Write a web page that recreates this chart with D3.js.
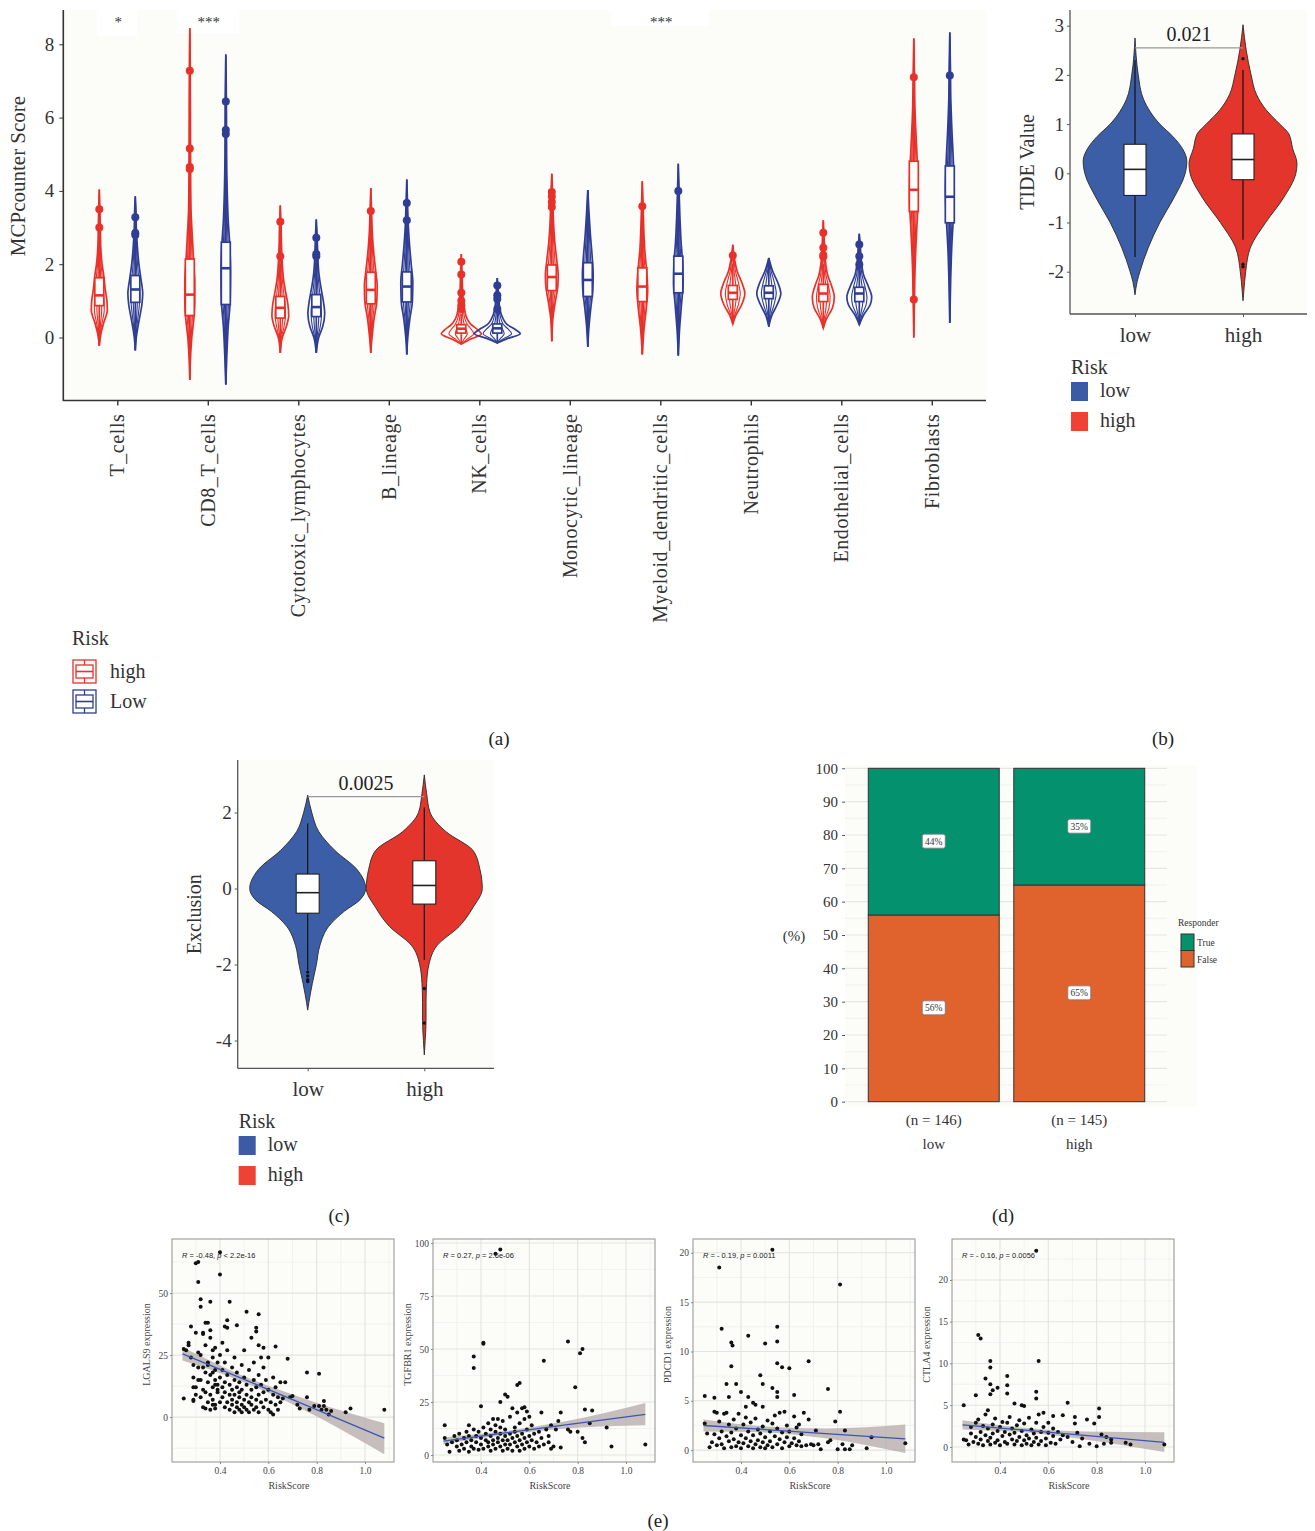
<!DOCTYPE html>
<html><head><meta charset="utf-8">
<script src="https://cdn.jsdelivr.net/npm/d3@7"></script>
<style>
body{margin:0;background:#fff}
</style>
</head><body><script>
// ================= DATA =================
// ---- panel (a) MCPcounter ----
const cellTypes = ["T_cells","CD8_T_cells","Cytotoxic_lymphocytes","B_lineage","NK_cells","Monocytic_lineage","Myeloid_dendritic_cells","Neutrophils","Endothelial_cells","Fibroblasts"];
const riskGroupsA = ["high","Low"];
// violin profiles: [value, relative density]
const violinHigh = [
 [[-0.22,0],[0.1,0.08],[0.4,0.22],[0.75,0.4],[1.0,0.38],[1.3,0.3],[1.7,0.22],[2.0,0.14],[2.5,0.07],[3.0,0.05],[3.5,0.03],[4.04,0]],
 [[-1.15,0],[-0.5,0.04],[0,0.1],[0.5,0.2],[1.0,0.25],[1.5,0.25],[2.0,0.2],[2.5,0.15],[3.0,0.1],[3.5,0.06],[4.5,0.04],[6,0.03],[7.5,0.02],[8.44,0]],
 [[-0.42,0],[0,0.1],[0.3,0.3],[0.6,0.42],[0.9,0.38],[1.2,0.28],[1.6,0.16],[2.0,0.1],[2.5,0.06],[3.0,0.04],[3.6,0]],
 [[-0.42,0],[0,0.06],[0.5,0.16],[1.0,0.3],[1.4,0.32],[1.8,0.25],[2.3,0.15],[2.8,0.08],[3.4,0.04],[4.08,0]],
 [[-0.18,0],[-0.05,0.45],[0.1,1.0],[0.2,0.85],[0.35,0.5],[0.5,0.3],[0.8,0.15],[1.2,0.07],[1.7,0.04],[2.28,0]],
 [[-0.1,0],[0.5,0.05],[1.0,0.18],[1.4,0.3],[1.7,0.32],[2.1,0.25],[2.6,0.15],[3.2,0.08],[3.8,0.05],[4.47,0]],
 [[-0.46,0],[0.2,0.08],[0.8,0.2],[1.3,0.27],[1.8,0.22],[2.4,0.12],[3.0,0.07],[3.6,0.04],[4.26,0]],
 [[0.37,0],[0.6,0.15],[0.9,0.45],[1.2,0.6],[1.5,0.45],[1.8,0.22],[2.1,0.1],[2.53,0]],
 [[0.26,0],[0.5,0.15],[0.8,0.45],[1.1,0.55],[1.4,0.42],[1.7,0.22],[2.1,0.1],[2.6,0.05],[3.2,0]],
 [[0.0,0],[1.0,0.03],[2.0,0.07],[3.0,0.15],[3.8,0.22],[4.5,0.2],[5.3,0.13],[6.2,0.06],[7.2,0.03],[8.16,0]]
];
const violinLow = [
 [[-0.35,0],[0.0,0.05],[0.5,0.2],[0.9,0.33],[1.2,0.37],[1.6,0.28],[2.0,0.18],[2.5,0.1],[3.0,0.05],[3.5,0.03],[3.85,0]],
 [[-1.28,0],[-0.5,0.05],[0.3,0.12],[1.0,0.22],[1.8,0.24],[2.5,0.2],[3.2,0.12],[4.0,0.07],[5.0,0.04],[6.5,0.03],[7.72,0]],
 [[-0.42,0],[0,0.12],[0.3,0.32],[0.65,0.42],[1.0,0.35],[1.4,0.22],[1.8,0.12],[2.3,0.07],[2.8,0.04],[3.22,0]],
 [[-0.46,0],[0,0.05],[0.5,0.15],[1.0,0.28],[1.5,0.3],[2.0,0.22],[2.5,0.14],[3.0,0.08],[3.6,0.04],[4.31,0]],
 [[-0.15,0],[-0.03,0.5],[0.1,1.15],[0.22,0.9],[0.35,0.5],[0.5,0.3],[0.8,0.12],[1.2,0.06],[1.62,0]],
 [[-0.25,0],[0.3,0.06],[0.8,0.15],[1.3,0.25],[1.7,0.27],[2.2,0.22],[2.8,0.13],[3.4,0.06],[4.02,0]],
 [[-0.49,0],[0.2,0.06],[0.9,0.16],[1.5,0.24],[2.0,0.22],[2.6,0.14],[3.3,0.08],[4.0,0.04],[4.74,0]],
 [[0.3,0],[0.6,0.15],[0.9,0.42],[1.2,0.6],[1.5,0.45],[1.8,0.2],[2.17,0]],
 [[0.35,0],[0.6,0.2],[0.9,0.55],[1.1,0.62],[1.4,0.45],[1.7,0.22],[2.1,0.1],[2.5,0.05],[2.83,0]],
 [[0.4,0],[1.5,0.04],[2.5,0.1],[3.3,0.18],[4.0,0.22],[4.8,0.18],[5.6,0.11],[6.5,0.05],[7.4,0.03],[8.32,0]]
];
// box stats: [q1, median, q3, whiskerLow, whiskerHigh]
const boxHigh = [[0.87,1.15,1.63,-0.22,2.7],[0.6,1.17,2.14,-1.15,4.4],[0.53,0.81,1.12,-0.42,2.0],[0.92,1.3,1.78,-0.42,3.0],[0.12,0.24,0.35,-0.18,0.65],[1.28,1.65,1.98,-0.1,3.3],[0.98,1.39,1.9,-0.46,3.3],[1.04,1.22,1.42,0.37,2.0],[0.98,1.2,1.45,0.26,2.0],[3.44,4.03,4.81,1.2,6.8]];
const boxLow = [[0.96,1.31,1.69,-0.35,2.6],[0.9,1.89,2.6,-1.28,5.3],[0.57,0.83,1.17,-0.42,2.0],[0.97,1.39,1.79,-0.46,3.0],[0.12,0.25,0.37,-0.15,0.7],[1.12,1.57,2.04,-0.25,4.02],[1.22,1.74,2.22,-0.49,3.7],[1.06,1.22,1.41,0.3,2.17],[0.98,1.2,1.37,0.35,1.9],[3.13,3.84,4.68,0.4,7.0]];
const outHigh = [[3.0,3.5],[4.6,4.65,5.16,7.28],[2.22,3.16],[3.45],[0.78,0.88,1.0,1.22,1.72,2.07],[3.56,3.7,3.85,3.97],[3.58],[2.24],[2.2,2.25,2.45,2.86],[1.04,7.1]];
const outLow = [[2.8,2.85,3.28],[5.55,5.66,6.44],[2.22,2.28,2.72],[3.2,3.67],[0.78,1.05,1.15,1.42],[],[4.0],[],[1.99,2.22,2.54],[7.15]];
const sigLabels = [["T_cells","*"],["CD8_T_cells","***"],["Myeloid_dendritic_cells","***"]];
const mcpTicks = [0,2,4,6,8];

// ---- panel (b) TIDE ----
const riskGroups = ["low","high"];
const tideViolin = [
 [[-2.47,0],[-2.2,0.04],[-2.0,0.09],[-1.5,0.25],[-1.0,0.46],[-0.5,0.72],[0,0.93],[0.25,0.96],[0.5,0.88],[0.75,0.7],[1.0,0.46],[1.5,0.16],[2.0,0.06],[2.4,0.02],[2.75,0]],
 [[-2.59,0],[-2.2,0.03],[-2.0,0.05],[-1.5,0.14],[-1.0,0.42],[-0.5,0.75],[0,0.98],[0.2,1.0],[0.5,0.92],[0.8,0.85],[1.0,0.68],[1.3,0.42],[1.6,0.25],[2.0,0.15],[2.5,0.06],[3.02,0]]
];
const tideBox = [[-0.45,0.08,0.59,-1.7,2.3],[-0.13,0.28,0.8,-1.35,2.1]];
const tideOut = [[],[2.33,-1.85,-1.9]];
const tideTicks = [-2,-1,0,1,2,3];
const tideP = "0.021";

// ---- panel (c) Exclusion ----
const exclViolin = [
 [[-3.2,0],[-3.0,0.02],[-2.5,0.08],[-2.0,0.15],[-1.5,0.21],[-1.0,0.36],[-0.6,0.63],[-0.3,0.9],[0,1.0],[0.5,0.85],[1.0,0.47],[1.5,0.19],[2.0,0.07],[2.46,0]],
 [[-4.38,0],[-4.0,0.015],[-3.5,0.03],[-3.0,0.03],[-2.5,0.04],[-2.0,0.08],[-1.5,0.22],[-1.0,0.6],[-0.5,0.84],[0,1.0],[0.5,0.96],[1.0,0.84],[1.5,0.37],[2.0,0.1],[2.5,0.04],[2.99,0]]
];
const exclBox = [[-0.65,-0.11,0.38,-2.15,1.71],[-0.41,0.08,0.73,-1.88,2.13]];
const exclOut = [[-2.2,-2.3,-2.4,-2.45],[-2.63,-3.54]];
const exclTicks = [-4,-2,0,2];
const exclP = "0.0025";

// ---- panel (d) responder ----
const respGroups = ["low","high"];
const respN = ["(n = 146)","(n = 145)"];
const respFalse = [56,65];
const respTrue = [44,35];
const pctTicks = [0,10,20,30,40,50,60,70,80,90,100];

// ---- panel (e) scatter ----
const riskTicks = [0.4,0.6,0.8,1.0];
const lgals9Pts = [[0.25,7.5],[0.25,27.5],[0.26,27],[0.27,29],[0.27,30],[0.28,36.5],[0.28,24],[0.29,6.5],[0.29,7],[0.29,12],[0.29,16],[0.29,21],[0.3,62],[0.3,34],[0.31,62.5],[0.31,54.5],[0.32,47.5],[0.32,44.5],[0.31,26],[0.32,15],[0.33,33.5],[0.33,34],[0.34,38],[0.35,38],[0.34,29],[0.33,20],[0.34,3.5],[0.36,46.5],[0.36,35],[0.36,32],[0.35,22],[0.37,27],[0.38,28],[0.37,18],[0.38,13],[0.39,11],[0.37,5],[0.38,3.5],[0.4,66.5],[0.4,57.5],[0.42,36.5],[0.43,39],[0.43,36],[0.44,46.5],[0.47,37],[0.51,42.5],[0.56,41.5],[0.55,36],[0.55,34.5],[0.53,32],[0.41,30],[0.56,29],[0.58,28],[0.63,28.5],
 [0.30,12],[0.30,9],[0.31,20],[0.31,15],[0.32,8],[0.32,25],[0.33,11],[0.33,4],[0.34,18],[0.34,10],[0.35,6],[0.35,14],[0.35,21],[0.36,9],[0.36,17],[0.36,3],[0.37,12],[0.37,24],[0.37,7],[0.38,15],[0.38,19],[0.38,5],[0.39,10],[0.39,22],[0.39,13],[0.40,6],[0.40,16],[0.40,25],[0.41,8],[0.41,12],[0.41,19],[0.42,4],[0.42,10],[0.42,14],[0.42,22],[0.43,6],[0.43,17],[0.43,27],[0.44,9],[0.44,3],[0.44,13],[0.45,5],[0.45,11],[0.45,20],[0.45,7],[0.46,2],[0.46,15],[0.46,9],[0.46,24],[0.47,4],[0.47,12],[0.47,18],[0.47,6],[0.48,3],[0.48,10],[0.48,14],[0.48,8],[0.49,5],[0.49,21],[0.49,2],[0.49,11],[0.50,7],[0.50,16],[0.50,4],[0.50,27],[0.51,9],[0.51,3],[0.51,13],[0.52,6],[0.52,19],[0.52,2],[0.53,11],[0.53,5],[0.53,8],[0.54,15],[0.54,3],[0.54,22],[0.55,7],[0.55,12],[0.55,4],[0.56,9],[0.56,17],[0.56,2],[0.57,6],[0.57,13],[0.57,24],[0.58,4],[0.58,10],[0.58,20],[0.59,7],[0.59,15],[0.60,3],[0.60,11],[0.60,24],[0.61,6],[0.61,2],[0.62,9],[0.62,16],[0.62,1],[0.63,5],[0.63,12],[0.64,3],[0.64,8],[0.65,6],[0.65,14],
 [0.66,7.5],[0.67,14],[0.68,23.5],[0.69,8],[0.70,8.5],[0.72,5],[0.73,3.5],[0.76,18],[0.76,8],[0.77,3],[0.79,4.5],[0.81,17.5],[0.81,4.5],[0.82,3],[0.83,4.5],[0.83,6.5],[0.84,3],[0.85,1],[0.86,2.5],[0.92,2],[0.94,3.5],[1.08,3]];
const tgfbr1Pts = [[0.46,95],[0.48,97],[0.41,52.5],[0.41,53],[0.37,46.5],[0.37,41],[0.40,23],[0.48,25],[0.50,28.5],[0.51,27.5],[0.55,33],[0.56,34],[0.66,44.5],[0.76,53.5],[0.81,48],[0.82,50],[0.79,32],[0.83,21.5],[0.86,21],[0.85,15],[0.92,13],[0.94,4],[1.08,5],[0.83,6],[0.82,8],[0.80,11],[0.76,12],[0.77,11],[0.73,20],[0.72,16],[0.73,3.5],[0.70,4],[0.71,12],[0.69,14],[0.68,9],[0.65,20],[0.60,18],[0.58,22.5],[0.57,22],[0.59,20.5],[0.53,22],[0.47,17],[0.45,17],
 [0.25,14],[0.25,8],[0.26,5],[0.27,1.5],[0.28,6],[0.29,9],[0.30,4],[0.30,7],[0.31,2],[0.31,10],[0.32,5],[0.33,8],[0.33,3],[0.34,11],[0.34,6],[0.35,14],[0.35,1.5],[0.35,9],[0.36,4],[0.36,7],[0.37,12],[0.37,3],[0.38,6],[0.38,9],[0.39,2.5],[0.39,11],[0.40,5],[0.40,8],[0.41,13],[0.41,3],[0.42,7],[0.42,10],[0.43,4],[0.43,15],[0.43,6],[0.44,2],[0.44,9],[0.44,12],[0.45,5],[0.45,7],[0.46,3],[0.46,11],[0.46,14],[0.47,6],[0.47,8],[0.48,4],[0.48,10],[0.48,13],[0.49,2],[0.49,7],[0.49,16],[0.50,5],[0.50,9],[0.50,12],[0.51,3],[0.51,7],[0.52,10],[0.52,5],[0.52,18],[0.53,8],[0.53,2],[0.54,6],[0.54,13],[0.54,11],[0.55,4],[0.55,9],[0.55,20],[0.56,7],[0.56,15],[0.56,2],[0.57,5],[0.57,10],[0.58,8],[0.58,3],[0.58,17],[0.59,6],[0.59,12],[0.60,4],[0.60,9],[0.61,7],[0.61,14],[0.62,3],[0.62,10],[0.63,6],[0.64,11],[0.64,4],[0.65,8],[0.66,5],[0.67,12],[0.68,6],[0.69,3]];
const pdcd1Pts = [[0.31,18.5],[0.53,20.3],[0.81,16.8],[0.32,12.3],[0.43,11.6],[0.55,12.5],[0.55,11],[0.36,10.9],[0.365,10.6],[0.50,10.8],[0.36,8.5],[0.55,8.8],[0.57,8.4],[0.60,8.3],[0.68,9.0],[0.48,7.6],[0.34,6.7],[0.38,6.7],[0.49,6.7],[0.53,6.3],[0.76,6.2],[0.40,5.9],[0.55,5.9],[0.55,5.4],[0.43,5.4],[0.35,5.4],[0.25,5.5],[0.29,5.3],[0.62,5.6],[0.45,4.8],[0.46,4.6],[0.49,4.4],[0.42,4.4],[0.66,3.8],[0.81,3.9],[0.79,2.9],[0.83,2.0],[0.71,2.0],[0.94,1.3],[1.08,0.7],[0.92,0.2],[0.86,0.5],[0.85,0.1],[0.82,0.6],[0.80,0.1],[0.83,0.1],[0.76,0.8],[0.77,1.0],[0.73,0.1],[0.72,0.6],[0.70,0.5],[0.69,0.6],[0.67,0.5],[0.65,0.4],[0.68,3.1],[0.64,2.6],
 [0.25,2.7],[0.26,1.7],[0.27,0.3],[0.28,0.8],[0.29,1.6],[0.29,3.9],[0.30,0.5],[0.30,3.8],[0.31,1.2],[0.31,2.9],[0.32,0.6],[0.32,1.9],[0.33,3.7],[0.33,0.2],[0.34,1.4],[0.34,3.8],[0.35,0.9],[0.35,2.6],[0.36,0.3],[0.36,1.8],[0.37,1.1],[0.37,3.1],[0.38,0.4],[0.38,2.2],[0.39,0.8],[0.39,3.7],[0.40,1.5],[0.40,0.2],[0.41,2.6],[0.41,0.7],[0.42,1.2],[0.42,3.3],[0.43,0.4],[0.43,1.9],[0.44,0.9],[0.44,2.8],[0.45,0.2],[0.45,1.5],[0.46,3.2],[0.46,0.6],[0.47,1.0],[0.47,2.1],[0.48,0.3],[0.48,1.7],[0.49,0.8],[0.49,2.4],[0.50,0.2],[0.50,1.3],[0.51,3.0],[0.51,0.5],[0.52,1.9],[0.52,0.9],[0.53,2.7],[0.53,0.3],[0.54,1.4],[0.54,3.5],[0.55,0.6],[0.55,2.2],[0.56,1.1],[0.56,3.8],[0.57,0.2],[0.57,1.8],[0.58,3.9],[0.58,0.8],[0.59,2.5],[0.59,1.3],[0.60,0.4],[0.60,1.9],[0.61,0.7],[0.62,3.4],[0.62,1.2],[0.63,0.5],[0.63,2.3],[0.64,0.9],[0.65,1.6]];
const ctla4Pts = [[0.55,23.5],[0.31,13.4],[0.32,13],[0.56,10.3],[0.36,10.3],[0.36,9.5],[0.34,8.2],[0.43,8.5],[0.43,7.4],[0.36,7.5],[0.37,6.8],[0.39,7.1],[0.30,6.2],[0.36,6.3],[0.43,6.4],[0.55,6.6],[0.55,5.8],[0.25,5.0],[0.46,5.2],[0.49,5.0],[0.50,4.9],[0.68,5.3],[0.81,4.6],[0.81,3.6],[0.71,3.6],[0.76,3.3],[0.79,2.8],[0.66,3.8],[0.62,3.7],[0.71,2.8],[0.82,1.5],[0.84,1.2],[0.86,0.9],[0.86,0.5],[0.92,0.5],[0.94,0.3],[1.08,0.3],[0.80,0.1],[0.83,0.4],[0.77,0.4],[0.73,0.1],[0.72,1.7],[0.70,0.6],[0.74,1.0],[0.68,1.2],
 [0.25,0.9],[0.26,0.8],[0.27,0.3],[0.28,2.4],[0.28,1.6],[0.29,0.6],[0.30,1.2],[0.30,2.9],[0.31,0.4],[0.31,3.3],[0.32,1.8],[0.32,0.9],[0.33,2.5],[0.33,0.2],[0.34,1.4],[0.34,3.9],[0.35,0.7],[0.35,2.2],[0.35,4.4],[0.36,1.1],[0.36,0.3],[0.37,2.7],[0.37,1.6],[0.38,0.5],[0.38,3.4],[0.39,1.9],[0.39,0.8],[0.40,2.4],[0.40,0.2],[0.41,1.3],[0.41,3.0],[0.42,0.6],[0.42,1.8],[0.43,2.9],[0.43,0.4],[0.44,1.5],[0.44,3.6],[0.45,0.9],[0.45,2.2],[0.46,0.3],[0.46,1.7],[0.47,2.6],[0.47,0.7],[0.48,1.2],[0.48,3.2],[0.49,0.2],[0.49,1.9],[0.50,0.8],[0.50,2.8],[0.51,1.4],[0.51,0.4],[0.52,3.5],[0.52,1.0],[0.53,0.2],[0.53,2.1],[0.54,1.6],[0.54,0.6],[0.55,2.9],[0.55,1.1],[0.56,0.3],[0.56,3.9],[0.57,1.8],[0.57,0.7],[0.58,2.4],[0.58,4.1],[0.59,1.0],[0.59,0.2],[0.60,1.7],[0.60,2.9],[0.61,0.5],[0.62,1.3],[0.62,2.2],[0.63,0.4],[0.64,1.8],[0.65,0.9],[0.66,1.4]];
// regression fit with 95% CI: [riskScore, fit, lower, upper]
const lgals9Fit = [[0.245,25.5,22.8,28.2],[0.5,15.2,14.0,16.5],[0.75,5.0,2.8,7.4],[1.08,-8.5,-15,-2.5]];
const tgfbr1Fit = [[0.245,6.5,5.0,8.3],[0.5,10.4,9.5,11.3],[0.75,14.2,12.5,15.9],[1.08,19.2,14.0,24.5]];
const pdcd1Fit = [[0.245,2.5,1.9,3.1],[0.5,2.09,1.8,2.4],[0.75,1.68,1.2,2.2],[1.08,1.15,-0.3,2.6]];
const ctla4Fit = [[0.245,2.65,2.1,3.2],[0.5,2.01,1.75,2.3],[0.75,1.38,0.9,1.85],[1.08,0.55,-0.6,1.75]];
const lgals9Ticks=[0,25,50], tgfbr1Ticks=[0,25,50,75,100], pdcd1Ticks=[0,5,10,15,20], ctla4Ticks=[0,5,10,15,20];
const corrLabels = [["-0.48","<","2.2e-16"],["0.27","=","2.6e-06"],["- 0.19","=","0.0011"],["- 0.16","=","0.0056"]];

// ================= DRAW =================
const SERIF = "'Liberation Serif','Times New Roman',serif";
const svg = d3.select("body").append("svg").attr("width",1315).attr("height",1531)
  .style("font-family",SERIF);
const BG = "#fcfcf8";
const RED = "#e8312a", BLUE = "#2f3e94";
const FILL_RED = "#e3352b", FILL_BLUE = "#3c5ea7";
const plainFmt = d => String(d);

function violinArea(cx, wScale, yScale, f){
  return d3.area().curve(d3.curveMonotoneY)
    .y(d=>yScale(d[0])).x0(d=>cx - wScale(d[1])*f).x1(d=>cx + wScale(d[1])*f);
}

// ---------- panel a ----------
{
  const y = d3.scaleLinear().domain([0,8]).range([337.5,44.3]);
  const x = d3.scalePoint().domain(cellTypes).range([117.3,931.8]);
  const off = d3.scaleOrdinal().domain(riskGroupsA).range([-18,18]);
  const w = d3.scaleLinear().domain([0,1]).range([0,20]);
  const col = d3.scaleOrdinal().domain(riskGroupsA).range([RED,BLUE]);
  const g = svg.append("g");
  g.append("rect").attr("x",63).attr("y",10).attr("width",923).attr("height",391).attr("fill",BG);
  const sigBg = {"T_cells":[40,26],"CD8_T_cells":[62,23],"Myeloid_dendritic_cells":[98,16]};
  sigLabels.forEach(([c,s])=>{
    const [bw,bh]=sigBg[c];
    g.append("rect").attr("x",x(c)-bw/2).attr("y",10).attr("width",bw).attr("height",bh).attr("fill","#fff");
    g.append("text").attr("x",x(c)+1).attr("y",27).attr("text-anchor","middle").attr("font-size",15).attr("fill","#333").text(s);
  });
  const sets = [{k:"high",prof:violinHigh,box:boxHigh,out:outHigh},{k:"Low",prof:violinLow,box:boxLow,out:outLow}];
  sets.forEach(s=>{
    const c = col(s.k);
    cellTypes.forEach((ct,i)=>{
      const cx = x(ct)+off(s.k);
      [1,0.62,0.3].forEach((f,j)=>{
        g.append("path").attr("d",violinArea(cx,w,y,f)(s.prof[i])).attr("fill","none")
          .attr("stroke",c).attr("stroke-width",j===0?1.7:1.1);
      });
      const b = s.box[i];
      g.append("line").attr("x1",cx).attr("x2",cx).attr("y1",y(b[3])).attr("y2",y(b[4])).attr("stroke",c).attr("stroke-width",1.7);
      g.append("rect").attr("x",cx-4.5).attr("width",9).attr("y",y(b[2])).attr("height",y(b[0])-y(b[2]))
        .attr("fill",BG).attr("stroke",c).attr("stroke-width",1.7);
      g.append("line").attr("x1",cx-4.5).attr("x2",cx+4.5).attr("y1",y(b[1])).attr("y2",y(b[1])).attr("stroke",c).attr("stroke-width",2.6);
      s.out[i].forEach(v=>g.append("circle").attr("cx",cx).attr("cy",y(v)).attr("r",4).attr("fill",c));
    });
  });
  g.append("line").attr("x1",63.3).attr("x2",63.3).attr("y1",10).attr("y2",401).attr("stroke","#333").attr("stroke-width",1.6);
  g.append("line").attr("x1",63).attr("x2",986).attr("y1",400.5).attr("y2",400.5).attr("stroke","#333").attr("stroke-width",1.6);
  const ya = g.append("g").attr("transform","translate(63.3,0)").call(d3.axisLeft(y).tickValues(mcpTicks).tickSize(4).tickSizeOuter(0).tickFormat(plainFmt));
  ya.select(".domain").remove();
  ya.selectAll("line").attr("stroke","#333");
  ya.selectAll("text").attr("font-size",19).attr("fill","#333").attr("font-family",SERIF).attr("x",-9);
  const xa = g.append("g").attr("transform","translate(0,400.5)").call(d3.axisBottom(x).tickSize(5).tickSizeOuter(0));
  xa.select(".domain").remove();
  xa.selectAll("line").attr("stroke","#333").attr("stroke-width",1.4);
  xa.selectAll("text").attr("font-size",20).attr("fill","#333").attr("font-family",SERIF)
    .attr("transform","rotate(-90)").attr("text-anchor","end").attr("x",-13).attr("y",0).attr("dy","0.33em")
    .attr("letter-spacing",0.6);
  g.append("text").attr("transform","translate(25,176) rotate(-90)").attr("text-anchor","middle").attr("font-size",21).attr("fill","#333").text("MCPcounter Score");
  g.append("text").attr("x",72).attr("y",645).attr("font-size",20).attr("fill","#333").text("Risk");
  riskGroupsA.forEach((k,i)=>{
    const yy = 660 + i*30, c = col(k);
    const lg = g.append("g");
    lg.append("rect").attr("x",73).attr("y",yy).attr("width",23).attr("height",23).attr("fill","#fff").attr("stroke",c).attr("stroke-width",1.3);
    lg.append("rect").attr("x",76).attr("y",yy+5).attr("width",17).attr("height",13).attr("fill","none").attr("stroke",c).attr("stroke-width",1.3);
    lg.append("line").attr("x1",76).attr("x2",93).attr("y1",yy+11.5).attr("y2",yy+11.5).attr("stroke",c).attr("stroke-width",1.6);
    lg.append("line").attr("x1",84.5).attr("x2",84.5).attr("y1",yy).attr("y2",yy+5).attr("stroke",c).attr("stroke-width",1.3);
    lg.append("line").attr("x1",84.5).attr("x2",84.5).attr("y1",yy+18).attr("y2",yy+23).attr("stroke",c).attr("stroke-width",1.3);
    g.append("text").attr("x",110).attr("y",yy+18).attr("font-size",20).attr("fill","#333").text(k);
  });
}

// ---------- generic filled violin panel (b, c) ----------
function filledViolin(opt){
  const g = svg.append("g");
  const {x0,x1,y0,y1} = opt.frame;
  g.append("rect").attr("x",x0).attr("y",y0).attr("width",x1-x0).attr("height",y1-y0).attr("fill",BG);
  const y = d3.scaleLinear().domain(opt.yDomain).range(opt.yRange);
  const x = d3.scalePoint().domain(riskGroups).range(opt.xRange);
  const w = d3.scaleLinear().domain([0,1]).range([0,opt.maxW]);
  const fill = d3.scaleOrdinal().domain(riskGroups).range([FILL_BLUE,FILL_RED]);
  riskGroups.forEach((k,i)=>{
    const cx = x(k);
    g.append("path").attr("d",violinArea(cx,w,y,1)(opt.prof[i])).attr("fill",fill(k)).attr("stroke","#2a2a2a").attr("stroke-width",0.9);
    const b = opt.box[i];
    g.append("line").attr("x1",cx).attr("x2",cx).attr("y1",y(b[3])).attr("y2",y(b[4])).attr("stroke","#111").attr("stroke-width",1.2);
    g.append("rect").attr("x",cx-opt.boxW).attr("width",2*opt.boxW).attr("y",y(b[2])).attr("height",y(b[0])-y(b[2]))
      .attr("fill","#fff").attr("stroke","#222").attr("stroke-width",1.1);
    g.append("line").attr("x1",cx-opt.boxW).attr("x2",cx+opt.boxW).attr("y1",y(b[1])).attr("y2",y(b[1])).attr("stroke","#222").attr("stroke-width",1.6);
    opt.out[i].forEach(v=>g.append("circle").attr("cx",cx).attr("cy",y(v)).attr("r",1.7).attr("fill","#111"));
  });
  g.append("line").attr("x1",x(riskGroups[0])).attr("x2",x(riskGroups[1])).attr("y1",y(opt.bracket)).attr("y2",y(opt.bracket)).attr("stroke","#999").attr("stroke-width",1.2);
  g.append("text").attr("x",(x(riskGroups[0])+x(riskGroups[1]))/2).attr("y",y(opt.bracket)-7).attr("text-anchor","middle").attr("font-size",20).attr("fill","#222").text(opt.p);
  g.append("line").attr("x1",x0).attr("x2",x0).attr("y1",y0).attr("y2",y1).attr("stroke","#555").attr("stroke-width",1.3);
  g.append("line").attr("x1",x0).attr("x2",x1).attr("y1",y1).attr("y2",y1).attr("stroke","#555").attr("stroke-width",1.3);
  const ya = g.append("g").attr("transform",`translate(${x0},0)`).call(d3.axisLeft(y).tickValues(opt.ticks).tickSize(3).tickFormat(plainFmt));
  ya.select(".domain").remove();
  ya.selectAll("line").attr("stroke","#555");
  ya.selectAll("text").attr("font-size",19).attr("fill","#333").attr("font-family",SERIF).attr("x",-6);
  const xa = g.append("g").attr("transform",`translate(0,${y1})`).call(d3.axisBottom(x).tickSize(3).tickSizeOuter(0));
  xa.select(".domain").remove();
  xa.selectAll("line").attr("stroke","#555");
  xa.selectAll("text").attr("font-size",21).attr("fill","#333").attr("font-family",SERIF).attr("y",13).attr("dy","0.71em");
  g.append("text").attr("transform",`translate(${opt.titleX},${(y0+y1)/2}) rotate(-90)`).attr("text-anchor","middle").attr("font-size",20).attr("fill","#333").text(opt.title);
  g.append("text").attr("x",x0+1).attr("y",opt.legY).attr("font-size",20).attr("fill","#333").text("Risk");
  riskGroups.forEach((k,i)=>{
    const yy = opt.legY+8+i*30;
    g.append("rect").attr("x",x0+1).attr("y",yy).attr("width",17).attr("height",19).attr("fill",k==="low"?"#3b5ba5":"#ee4234");
    g.append("text").attr("x",x0+30).attr("y",yy+15).attr("font-size",20).attr("fill","#333").text(k);
  });
}
filledViolin({frame:{x0:1070,x1:1307,y0:10,y1:314}, yDomain:[0,3], yRange:[173.3,25.7], xRange:[1135,1243], maxW:54,
  prof:tideViolin, box:tideBox, out:tideOut, ticks:tideTicks, bracket:2.55, p:tideP, boxW:11, title:"TIDE Value", titleX:1034, legY:374});
filledViolin({frame:{x0:237.7,x1:494,y0:760,y1:1068.3}, yDomain:[0,2], yRange:[888.5,812.5], xRange:[307.7,424.3], maxW:58,
  prof:exclViolin, box:exclBox, out:exclOut, ticks:exclTicks, bracket:2.42, p:exclP, boxW:11.5, title:"Exclusion", titleX:201, legY:1128});

// ---------- panel d ----------
{
  const g = svg.append("g");
  g.append("rect").attr("x",845).attr("y",765).attr("width",352).attr("height",342).attr("fill",BG);
  const y = d3.scaleLinear().domain([0,100]).range([1101.7,768.3]);
  const x = d3.scaleBand().domain(respGroups).range([861,1152]).paddingInner(0.1).paddingOuter(0.05);
  d3.range(0,101,5).forEach(v=>{
    g.append("line").attr("x1",845).attr("x2",1167).attr("y1",y(v)).attr("y2",y(v)).attr("stroke",v%10===0?"#e6e6e3":"#efefec").attr("stroke-width",v%10===0?1.2:0.9);
  });
  const rows = respGroups.map((k,i)=>({grp:k, False:respFalse[i], True:respTrue[i]}));
  const stack = d3.stack().keys(["False","True"])(rows);
  const col = {False:"#e0622d", True:"#03926d"};
  stack.forEach(layer=>{
    layer.forEach(d=>{
      g.append("rect").attr("x",x(d.data.grp)).attr("width",x.bandwidth()).attr("y",y(d[1])).attr("height",y(d[0])-y(d[1]))
        .attr("fill",col[layer.key]).attr("stroke","#333").attr("stroke-width",1);
      const mid = (d[0]+d[1])/2, cx = x(d.data.grp)+x.bandwidth()/2;
      g.append("rect").attr("x",cx-11.5).attr("y",y(mid)-7.5).attr("width",23).attr("height",14).attr("rx",2)
        .attr("fill","#fff").attr("stroke","#777").attr("stroke-width",0.8);
      g.append("text").attr("x",cx).attr("y",y(mid)+3).attr("text-anchor","middle").attr("font-size",9.5).attr("fill","#333")
        .text(Math.round(d[1]-d[0])+"%");
    });
  });
  const ya = g.append("g").attr("transform","translate(845,0)").call(d3.axisLeft(y).tickValues(pctTicks).tickSize(3).tickFormat(plainFmt));
  ya.select(".domain").remove();
  ya.selectAll("line").attr("stroke","#555");
  ya.selectAll("text").attr("font-size",15).attr("fill","#333").attr("font-family",SERIF).attr("x",-7);
  g.append("text").attr("x",794).attr("y",941).attr("text-anchor","middle").attr("font-size",15).attr("fill","#333").text("(%)");
  respGroups.forEach((k,i)=>{
    const cx = x(k)+x.bandwidth()/2;
    g.append("text").attr("x",cx).attr("y",1125).attr("text-anchor","middle").attr("font-size",15).attr("fill","#333").text(respN[i]);
    g.append("text").attr("x",cx).attr("y",1149).attr("text-anchor","middle").attr("font-size",15).attr("fill","#333").text(k);
  });
  g.append("text").attr("x",1178).attr("y",926).attr("font-size",9.5).attr("fill","#333").text("Responder");
  [["True",934],["False",950.5]].forEach(([k,yy])=>{
    g.append("rect").attr("x",1181).attr("y",yy).attr("width",13).attr("height",16.5).attr("fill",col[k]).attr("stroke","#333").attr("stroke-width",1);
    g.append("text").attr("x",1197).attr("y",yy+12).attr("font-size",9.5).attr("fill","#333").text(k);
  });
}

// ---------- panel e ----------
const scatterCfg = [
  {pts:lgals9Pts, fit:lgals9Fit, ticks:lgals9Ticks, yDom:[-18.1,71.8], x0:172, title:"LGALS9 expression", lab:corrLabels[0]},
  {pts:tgfbr1Pts, fit:tgfbr1Fit, ticks:tgfbr1Ticks, yDom:[-3.3,101.9], x0:433, title:"TGFBR1 expression", lab:corrLabels[1]},
  {pts:pdcd1Pts, fit:pdcd1Fit, ticks:pdcd1Ticks, yDom:[-1.2,21.4], x0:693, title:"PDCD1 expression", lab:corrLabels[2]},
  {pts:ctla4Pts, fit:ctla4Fit, ticks:ctla4Ticks, yDom:[-1.8,24.9], x0:952, title:"CTLA4 expression", lab:corrLabels[3]}
];
scatterCfg.forEach(cfg=>{
  const g = svg.append("g");
  const X0 = cfg.x0, X1 = cfg.x0+222, Y0 = 1239, Y1 = 1462;
  const x = d3.scaleLinear().domain([0.2015,1.12]).range([X0,X1]);
  const y = d3.scaleLinear().domain(cfg.yDom).range([Y1,Y0]);
  g.append("rect").attr("x",X0).attr("y",Y0).attr("width",X1-X0).attr("height",Y1-Y0).attr("fill",BG);
  const step = cfg.ticks[1]-cfg.ticks[0];
  const minorY = d3.range(cfg.ticks[0]-step/2, cfg.yDom[1], step).filter(v=>v>cfg.yDom[0]);
  minorY.forEach(v=>g.append("line").attr("x1",X0).attr("x2",X1).attr("y1",y(v)).attr("y2",y(v)).attr("stroke","#efefed").attr("stroke-width",0.8));
  [0.3,0.5,0.7,0.9,1.1].forEach(v=>g.append("line").attr("x1",x(v)).attr("x2",x(v)).attr("y1",Y0).attr("y2",Y1).attr("stroke","#efefed").attr("stroke-width",0.8));
  cfg.ticks.forEach(v=>g.append("line").attr("x1",X0).attr("x2",X1).attr("y1",y(v)).attr("y2",y(v)).attr("stroke","#e3e3e1").attr("stroke-width",1.1));
  riskTicks.forEach(v=>g.append("line").attr("x1",x(v)).attr("x2",x(v)).attr("y1",Y0).attr("y2",Y1).attr("stroke","#e3e3e1").attr("stroke-width",1.1));
  g.append("path").attr("d",d3.area().x(d=>x(d[0])).y0(d=>y(d[2])).y1(d=>y(d[3])).curve(d3.curveMonotoneX)(cfg.fit))
    .attr("fill","#b4aaa8").attr("opacity",0.75);
  g.selectAll("circle.p").data(cfg.pts).join("circle").attr("cx",d=>x(d[0])).attr("cy",d=>y(d[1])).attr("r",2).attr("fill","#111");
  g.append("path").attr("d",d3.line().x(d=>x(d[0])).y(d=>y(d[1]))(cfg.fit)).attr("fill","none").attr("stroke","#3b55b5").attr("stroke-width",1.3);
  g.append("rect").attr("x",X0).attr("y",Y0).attr("width",X1-X0).attr("height",Y1-Y0).attr("fill","none").attr("stroke","#9a9a9a").attr("stroke-width",1.1);
  const ya = g.append("g").attr("transform",`translate(${X0},0)`).call(d3.axisLeft(y).tickValues(cfg.ticks).tickSize(2).tickFormat(plainFmt));
  ya.select(".domain").remove(); ya.selectAll("line").attr("stroke","#888");
  ya.selectAll("text").attr("font-size",9.5).attr("fill","#444").attr("font-family",SERIF).attr("x",-4);
  const xa = g.append("g").attr("transform",`translate(0,${Y1})`).call(d3.axisBottom(x).tickValues(riskTicks).tickSize(2).tickFormat(d3.format(".1f")));
  xa.select(".domain").remove(); xa.selectAll("line").attr("stroke","#888");
  xa.selectAll("text").attr("font-size",9.5).attr("fill","#444").attr("font-family",SERIF).attr("y",5);
  g.append("text").attr("x",(X0+X1)/2+6).attr("y",1489).attr("text-anchor","middle").attr("font-size",10).attr("fill","#444").text("RiskScore");
  g.append("text").attr("transform",`translate(${X0-22},${(Y0+Y1)/2-6}) rotate(-90)`).attr("text-anchor","middle").attr("font-size",10).attr("fill","#444").text(cfg.title);
  const t = g.append("text").attr("x",X0+10).attr("y",1258).attr("font-size",7.5).attr("fill","#222")
    .style("font-family","'Liberation Sans',Arial,sans-serif");
  t.append("tspan").attr("font-style","italic").text("R");
  t.append("tspan").text(" = "+cfg.lab[0]+", ");
  t.append("tspan").attr("font-style","italic").text("p");
  t.append("tspan").text(" "+cfg.lab[1]+" "+cfg.lab[2]);
});

// ---------- panel tags ----------
[["(a)",499,745],["(b)",1163,745],["(c)",339,1222],["(d)",1003,1222],["(e)",658,1527]].forEach(([t,xx,yy])=>{
  svg.append("text").attr("x",xx).attr("y",yy).attr("text-anchor","middle").attr("font-size",19).attr("fill","#222").text(t);
});
</script></body></html>
